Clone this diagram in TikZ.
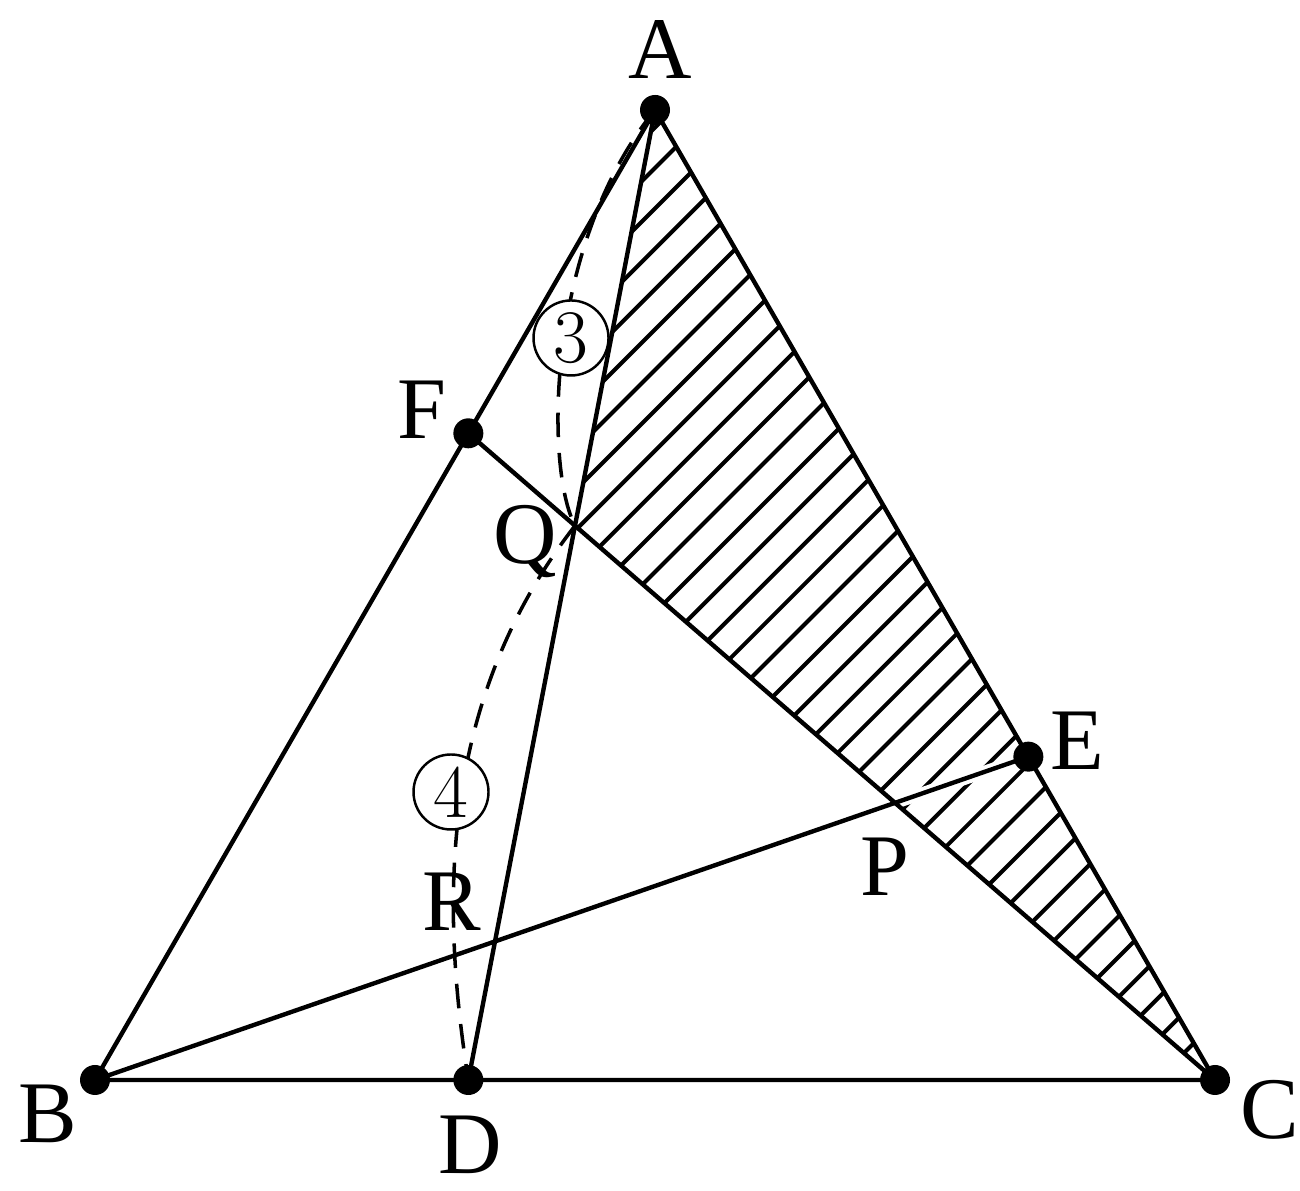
\documentclass[tikz,border=0pt]{standalone}
\usepackage{fontspec}
\newfontfamily\tnr{Liberation Serif}
\usetikzlibrary{calc,intersections}
\begin{document}
\begin{tikzpicture}[
  seg/.style={line width=1.25pt, line cap=round},
  hatchline/.style={line width=1.15pt},
  dot/.style={circle, fill=black, inner sep=0pt, minimum size=0.3cm},
  lbl/.style={font=\tnr\fontsize{25}{25}\selectfont, inner sep=0pt},
  curve/.style={line width=1pt, dash pattern=on 7pt off 4.5pt},
  circnum/.style={circle, draw, line width=0.7pt, fill=white, minimum size=0.75cm, inner sep=0pt, font=\fontsize{21.5}{21.5}\selectfont}
]
\useasboundingbox (0,0) rectangle (13,11.9);
\coordinate (B) at (0.95,1.10);
\coordinate (C) at (12.15,1.10);
\coordinate (A) at (6.55,10.80);
\coordinate (D) at ($(B)!1/3!(C)$);
\coordinate (E) at ($(C)!1/3!(A)$);
\coordinate (F) at ($(A)!1/3!(B)$);
\coordinate (Q) at (intersection of A--D and C--F);
\coordinate (P) at (intersection of B--E and C--F);
\coordinate (R) at (intersection of A--D and B--E);

% hatching of triangle AQC
\begin{scope}
  \clip (A) -- (Q) -- (C) -- cycle;
  \foreach \k in {-1,...,37} {
    \pgfmathsetmacro\cc{-3.67+0.404*\k}
    \draw[hatchline] (\cc-2,-2) -- (\cc+13,13);
  }
\end{scope}
\draw[white, line width=3.5pt] (P) -- (E);

% triangle and cevians
\draw[seg] (A) -- (B) -- (C) -- cycle;
\draw[seg] (A) -- (D);
\draw[seg] (B) -- (E);
\draw[seg] (C) -- (F);

% dashed arcs
\draw[curve] (A) .. controls (5.45,9.45) and (5.45,7.20) .. (Q);
\draw[curve] (Q) .. controls (4.40,4.90) and (4.40,2.90) .. (D);
\node[circnum] (n3) at (5.71,8.52) {3};
\node[circnum] (n4) at (4.51,3.98) {4};

% points
\foreach \p in {A,B,C,D,E,F} { \node[dot] (d\p) at (\p) {}; }

% labels
\node[lbl] (lA) at (6.60,11.40) {A};
\node[lbl] (lB) at (0.48,0.76) {B};
\node[lbl] (lC) at (12.70,0.80) {C};
\node[lbl] (lD) at (4.70,0.45) {D};
\node[lbl] (lE) at (10.77,4.49) {E};
\node[lbl] (lF) at (4.22,7.80) {F};
\node[lbl] (lQ) at (5.25,6.48) {Q};
\node[lbl] (lP) at (8.85,3.23) {P};
\node[lbl] (lR) at (4.52,2.88) {R};
\end{tikzpicture}
\end{document}
